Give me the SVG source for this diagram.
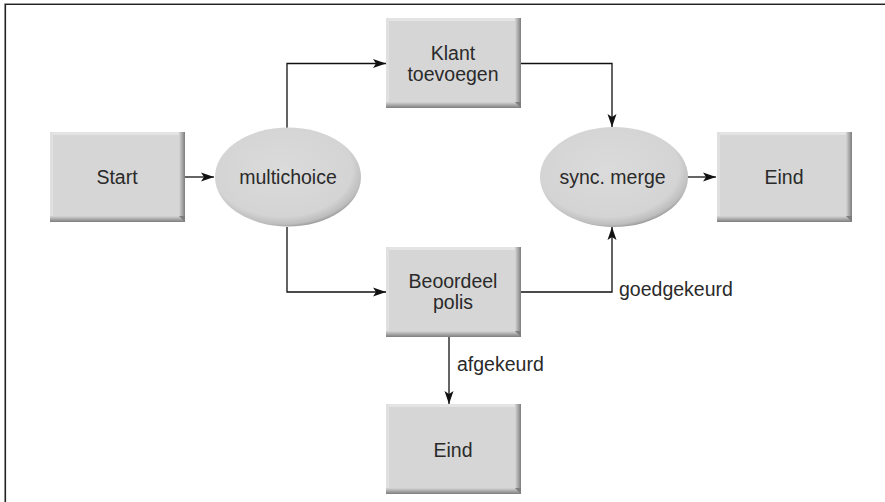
<svg xmlns="http://www.w3.org/2000/svg" xmlns:xlink="http://www.w3.org/1999/xlink" width="885" height="502" viewBox="0 0 885 502">
  <style>
    .lbl { font-family: "Liberation Sans", Arial, sans-serif; font-size: 19.5px; fill: #2a2a2a; }
    .mid { text-anchor: middle; }
    .edge { fill: none; stroke: #111; stroke-width: 1.3; }
    .arrow { marker-end: url(#head); }
  </style>
  <defs>
    <marker id="head" viewBox="0 0 13 10" refX="13" refY="5" markerWidth="13" markerHeight="10" markerUnits="userSpaceOnUse" orient="auto">
      <path d="M0,0.5 L13,5 L0,9.5 L3,5 Z" fill="#111"/>
    </marker>
    <linearGradient id="shadeR" x1="0" y1="0" x2="1" y2="0">
      <stop offset="0" stop-color="#d6d6d6"/>
      <stop offset="1" stop-color="#7d7d7d"/>
    </linearGradient>
    <linearGradient id="shadeB" x1="0" y1="0" x2="0" y2="1">
      <stop offset="0" stop-color="#d6d6d6"/>
      <stop offset="1" stop-color="#7d7d7d"/>
    </linearGradient>
    <radialGradient id="oval" cx="0.46" cy="0.42" r="0.6">
      <stop offset="0" stop-color="#dbdbdb"/>
      <stop offset="0.8" stop-color="#d4d4d4"/>
      <stop offset="0.93" stop-color="#bdbdbd"/>
      <stop offset="1" stop-color="#8e8e8e"/>
    </radialGradient>
    <!-- bevelled grey box, 135 x 90 -->
    <symbol id="box" viewBox="0 0 135 90" width="135" height="90" overflow="visible">
      <rect x="0" y="0" width="135" height="90" fill="#d6d6d6"/>
      <rect x="0" y="0" width="135" height="3" fill="#e4e4e4"/>
      <rect x="0" y="0" width="3" height="90" fill="#e0e0e0"/>
      <rect x="129" y="0" width="6" height="90" fill="url(#shadeR)"/>
      <polygon points="0,84 135,84 135,90 0,90" fill="url(#shadeB)"/>
      <polygon points="129,84 135,84 135,90" fill="#7d7d7d"/>
    </symbol>
  </defs>

  <rect width="885" height="502" fill="#fff"/>
  <!-- frame: top and left rules only -->
  <path d="M4.5,502 V3.5 H885" fill="none" stroke="#9a9a9a" stroke-width="1"/>
  <path d="M5.5,502 V4.5 H885" fill="none" stroke="#222" stroke-width="1.2"/>

  <g id="connectors">
    <path class="edge arrow" d="M185,177 H214"/>
    <path class="edge arrow" d="M287,128 V63.5 H386"/>
    <path class="edge arrow" d="M287,227 V292 H386"/>
    <path class="edge arrow" d="M521,63.5 H612 V127"/>
    <path class="edge arrow" d="M521,292 H612 V227"/>
    <path class="edge arrow" d="M688,177 H716"/>
    <path class="edge arrow" d="M449,337 V404"/>
    <text class="lbl" x="619" y="296">goedgekeurd</text>
    <text class="lbl" x="457" y="371">afgekeurd</text>
  </g>

  <g id="start">
    <use xlink:href="#box" x="50" y="132"/>
    <text class="lbl mid" x="117" y="184">Start</text>
  </g>

  <g id="multichoice">
    <ellipse cx="288" cy="177" rx="73" ry="49.5" fill="url(#oval)"/>
    <text class="lbl mid" x="288" y="184">multichoice</text>
  </g>

  <g id="klant-toevoegen">
    <use xlink:href="#box" x="386" y="18"/>
    <text class="lbl mid" x="453" y="59.5">Klant</text>
    <text class="lbl mid" x="453" y="80.5">toevoegen</text>
  </g>

  <g id="beoordeel-polis">
    <use xlink:href="#box" x="386" y="247"/>
    <text class="lbl mid" x="453" y="288">Beoordeel</text>
    <text class="lbl mid" x="453" y="309">polis</text>
  </g>

  <g id="sync-merge">
    <ellipse cx="614" cy="177" rx="74" ry="50" fill="url(#oval)"/>
    <text class="lbl mid" x="612.5" y="184">sync. merge</text>
  </g>

  <g id="eind-rechts">
    <use xlink:href="#box" x="717" y="132"/>
    <text class="lbl mid" x="784" y="184">Eind</text>
  </g>

  <g id="eind-onder">
    <use xlink:href="#box" x="386" y="404"/>
    <text class="lbl mid" x="453" y="457">Eind</text>
  </g>
</svg>
